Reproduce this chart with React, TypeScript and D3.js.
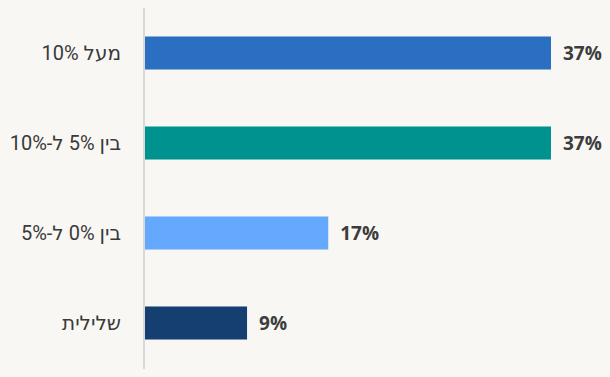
import React from "react";
import * as d3 from "d3";

const categories = ["מעל 10%", "בין 5% ל-10%", "בין 0% ל-5%", "שלילית"];
const values = [37, 37, 16.7, 9.3];
const colors = ["#2B6FC2", "#00928E", "#64A9FD", "#153F71"];

const W = 610;
const H = 377;

export default function App() {
  const x = d3.scaleLinear().domain([0, 37]).range([145, 551]);
  const y = d3
    .scaleBand<string>()
    .domain(categories)
    .range([8, 368])
    .paddingInner(0.633)
    .paddingOuter(0.3165);
  const fmt = (v: number) => `${d3.format(".0f")(v)}%`;
  return (
    <svg
      width={W}
      height={H}
      style={{ position: "absolute", left: 0, top: 0, background: "#F8F7F4" }}
    >
      <rect x={0} y={0} width={W} height={H} fill="#F8F7F4" />
      <line x1={144} x2={144} y1={8} y2={369} stroke="#D9D9D9" strokeWidth={2} />
      {categories.map((c, i) => {
        const yy = y(c)!;
        const bw = y.bandwidth();
        return (
          <g key={c}>
            <rect x={x(0)} y={yy} width={x(values[i]) - x(0)} height={bw} fill={colors[i]} />
            <text
              x={121}
              y={yy + bw / 2}
              textAnchor="end"
              dominantBaseline="central"
              fontFamily="Roboto, 'DejaVu Sans', sans-serif"
              fontSize={20}
              fill="#3a3a3a"
            >
              {c}
            </text>
            <text
              x={x(values[i]) + 12}
              y={yy + bw / 2}
              dominantBaseline="central"
              fontFamily="'Open Sans', Roboto, sans-serif"
              fontWeight="bold"
              fontSize={19}
              fill="#3d3d3d"
            >
              {fmt(values[i])}
            </text>
          </g>
        );
      })}
    </svg>
  );
}
